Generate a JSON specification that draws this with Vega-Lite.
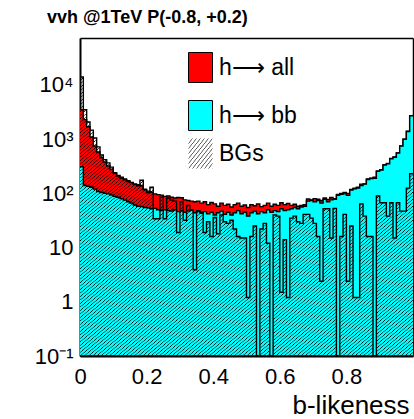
{
"$schema": "https://vega.github.io/schema/vega-lite/v6.json",
"width": 333, "height": 318,
"autosize": {"type": "none"},
"padding": {"left": 80, "top": 38, "right": 1, "bottom": 63},
"background": "white",
"config": {"view": {"stroke": null}, "font": "Liberation Sans"},
"title": {"text": "vvh @1TeV P(-0.8, +0.2)", "anchor": "start", "frame": "group", "offset": 15, "dx": -33, "dy": 28, "fontSize": 18, "font": "Liberation Sans", "fontWeight": "bold", "color": "black", "baseline": "alphabetic"},
"data": {"values": [
{"x":0,"all":3500,"bb":310,"bg":14000},
{"x":0.01,"all":2300,"bb":140,"bg":3500},
{"x":0.02,"all":1700,"bb":135,"bg":2070},
{"x":0.03,"all":1100,"bb":130,"bg":1470},
{"x":0.04,"all":750,"bb":120,"bg":1050},
{"x":0.05,"all":580,"bb":108,"bg":720},
{"x":0.06,"all":460,"bb":104,"bg":510},
{"x":0.07,"all":380,"bb":100,"bg":420},
{"x":0.08,"all":320,"bb":98,"bg":365},
{"x":0.09,"all":280,"bb":93,"bg":305},
{"x":0.1,"all":240,"bb":88,"bg":236},
{"x":0.11,"all":215,"bb":85,"bg":210},
{"x":0.12,"all":200,"bb":80,"bg":190},
{"x":0.13,"all":185,"bb":75,"bg":178},
{"x":0.14,"all":172,"bb":70,"bg":165},
{"x":0.15,"all":160,"bb":66,"bg":158},
{"x":0.16,"all":150,"bb":61,"bg":145},
{"x":0.17,"all":145,"bb":58,"bg":138},
{"x":0.18,"all":140,"bb":57,"bg":175},
{"x":0.19,"all":120,"bb":55,"bg":116},
{"x":0.2,"all":110,"bb":54,"bg":104},
{"x":0.21,"all":105,"bb":52,"bg":130},
{"x":0.22,"all":98,"bb":53,"bg":34},
{"x":0.23,"all":95,"bb":50,"bg":34},
{"x":0.24,"all":93,"bb":49,"bg":85},
{"x":0.25,"all":88,"bb":50,"bg":34},
{"x":0.26,"all":90,"bb":48,"bg":82},
{"x":0.27,"all":85,"bb":47,"bg":75},
{"x":0.28,"all":82,"bb":50,"bg":72},
{"x":0.29,"all":84,"bb":46,"bg":19},
{"x":0.3,"all":83,"bb":48,"bg":70},
{"x":0.31,"all":76,"bb":45,"bg":32},
{"x":0.32,"all":74,"bb":47,"bg":60},
{"x":0.33,"all":72,"bb":50,"bg":49},
{"x":0.34,"all":70,"bb":44,"bg":3.9},
{"x":0.35,"all":72,"bb":48,"bg":46},
{"x":0.36,"all":66,"bb":43,"bg":45},
{"x":0.37,"all":70,"bb":46,"bg":19},
{"x":0.38,"all":62,"bb":42,"bg":30},
{"x":0.39,"all":68,"bb":45,"bg":16},
{"x":0.4,"all":64,"bb":40,"bg":36},
{"x":0.41,"all":58,"bb":44,"bg":18},
{"x":0.42,"all":66,"bb":47,"bg":40},
{"x":0.43,"all":60,"bb":41,"bg":30},
{"x":0.44,"all":63,"bb":45,"bg":28},
{"x":0.45,"all":56,"bb":40,"bg":32},
{"x":0.46,"all":62,"bb":44,"bg":22},
{"x":0.47,"all":66,"bb":48,"bg":16},
{"x":0.48,"all":58,"bb":42,"bg":15},
{"x":0.49,"all":61,"bb":45,"bg":15},
{"x":0.5,"all":55,"bb":38,"bg":1.2},
{"x":0.51,"all":62,"bb":44,"bg":16},
{"x":0.52,"all":59,"bb":47,"bg":25},
{"x":0.53,"all":64,"bb":42,"bg":0.01},
{"x":0.54,"all":57,"bb":46,"bg":22},
{"x":0.55,"all":60,"bb":44,"bg":28},
{"x":0.56,"all":66,"bb":50,"bg":12},
{"x":0.57,"all":58,"bb":45,"bg":0.01},
{"x":0.58,"all":63,"bb":48,"bg":40},
{"x":0.59,"all":60,"bb":46,"bg":38},
{"x":0.6,"all":67,"bb":52,"bg":1.5},
{"x":0.61,"all":62,"bb":48,"bg":14},
{"x":0.62,"all":65,"bb":50,"bg":1.2},
{"x":0.63,"all":60,"bb":52,"bg":35},
{"x":0.64,"all":63,"bb":55,"bg":38},
{"x":0.65,"all":58,"bb":52,"bg":30},
{"x":0.66,"all":60,"bb":56,"bg":28},
{"x":0.67,"all":62,"bb":58,"bg":41},
{"x":0.68,"all":79,"bb":72,"bg":41},
{"x":0.69,"all":76,"bb":74,"bg":35},
{"x":0.7,"all":80,"bb":70,"bg":28},
{"x":0.71,"all":78,"bb":74,"bg":16},
{"x":0.72,"all":74,"bb":66,"bg":2.4},
{"x":0.73,"all":82,"bb":78,"bg":52},
{"x":0.74,"all":77,"bb":70,"bg":52},
{"x":0.75,"all":84,"bb":76,"bg":15},
{"x":0.76,"all":80,"bb":78,"bg":53},
{"x":0.77,"all":96,"bb":92,"bg":0.01},
{"x":0.78,"all":100,"bb":96,"bg":16},
{"x":0.79,"all":104,"bb":98,"bg":41},
{"x":0.8,"all":100,"bb":92,"bg":2.4},
{"x":0.81,"all":118,"bb":115,"bg":25},
{"x":0.82,"all":125,"bb":122,"bg":1.2},
{"x":0.83,"all":130,"bb":125,"bg":1.2},
{"x":0.84,"all":148,"bb":140,"bg":64},
{"x":0.85,"all":150,"bb":148,"bg":38},
{"x":0.86,"all":185,"bb":180,"bg":16},
{"x":0.87,"all":190,"bb":188,"bg":16},
{"x":0.88,"all":200,"bb":190,"bg":0.01},
{"x":0.89,"all":260,"bb":255,"bg":90},
{"x":0.9,"all":275,"bb":270,"bg":67},
{"x":0.91,"all":340,"bb":335,"bg":67},
{"x":0.92,"all":355,"bb":350,"bg":38},
{"x":0.93,"all":440,"bb":435,"bg":67},
{"x":0.94,"all":470,"bb":465,"bg":15},
{"x":0.95,"all":560,"bb":555,"bg":67},
{"x":0.96,"all":750,"bb":745,"bg":47},
{"x":0.97,"all":1000,"bb":995,"bg":47},
{"x":0.98,"all":1400,"bb":1390,"bg":125},
{"x":0.99,"all":2700,"bb":2690,"bg":230},
{"x":1,"all":2700,"bb":2690,"bg":230}
]},
"layer": [
{"mark": {"type": "area", "interpolate": "step-after", "opacity": 1},
 "encoding": {
  "x": {"field": "x", "type": "quantitative", "scale": {"domain": [0, 1], "nice": false, "zero": false},
   "axis": {"orient": "bottom", "values": [0,0.05,0.1,0.15,0.2,0.25,0.3,0.35,0.4,0.45,0.5,0.55,0.6,0.65,0.7,0.75,0.8,0.85,0.9,0.95,1],
    "labelExpr": "datum.value == 0 ? '0' : datum.value == 0.2 ? '0.2' : datum.value == 0.4 ? '0.4' : datum.value == 0.6 ? '0.6' : datum.value == 0.8 ? '0.8' : ''",
    "labelFlush": false, "labelOverlap": false, "labelFont": "Liberation Sans", "labelFontSize": 22, "labelColor": "black", "labelPadding": 10,
    "tickSize": 0, "tickColor": "black", "tickWidth": 1, "domainColor": "black", "domainWidth": 2, "grid": false,
    "title": "b-likeness", "titleFont": "Liberation Sans", "titleFontSize": 26, "titleFontWeight": "normal", "titleColor": "black",
    "titleX": 212, "titleY": 57, "titleAlign": "left", "titleBaseline": "alphabetic",
    "encode": {"ticks": {"y2": {"condition": {"test": "indexof([0,0.2,0.4,0.6,0.8,1], datum.value) >= 0", "value": -10}, "value": -5}}}}},
  "y": {"field": "all", "type": "quantitative", "scale": {"type": "log", "domain": [0.1, 73600], "nice": false, "clamp": true},
   "axis": {"orient": "left", "values": [0.1,0.2,0.3,0.4,0.5,0.6,0.7,0.8,0.9,1,2,3,4,5,6,7,8,9,10,20,30,40,50,60,70,80,90,100,200,300,400,500,600,700,800,900,1000,2000,3000,4000,5000,6000,7000,8000,9000,10000,20000,30000,40000,50000,60000,70000],
    "labelExpr": "datum.value == 0.1 ? '10⁻¹' : datum.value == 1 ? '1' : datum.value == 10 ? '10' : datum.value == 100 ? '10²' : datum.value == 1000 ? '10³' : datum.value == 10000 ? '10⁴' : ''",
    "labelOverlap": false, "labelFlush": false, "labelFont": "Liberation Sans", "labelFontSize": 22, "labelColor": "black", "labelPadding": 7,
    "tickSize": 0, "tickColor": "black", "tickWidth": 1, "domainColor": "black", "domainWidth": 2, "grid": false, "title": null,
    "encode": {"ticks": {"x2": {"condition": {"test": "indexof([0.1,1,10,100,1000,10000], datum.value) >= 0", "value": 10}, "value": 5}}}}},
  "y2": {"datum": 0.1},
  "fill": {"datum": "h⟶ all", "scale": {"domain": ["h⟶ all", "h⟶ bb"], "range": ["#ff0000", "#00ffff"]},
   "legend": {"orient": "none", "legendX": 105, "legendY": 14, "title": null, "symbolType": "M-0.8,-1H0.8V1H-0.8Z", "symbolSize": 900,
    "labelFontSize": 23, "labelFont": "Liberation Sans", "labelColor": "black", "labelOffset": 3, "rowPadding": 13, "padding": 0,
    "symbolStrokeColor": "black", "symbolStrokeWidth": 1, "symbolOpacity": 1, "labelLimit": 0}}
 }},
{"mark": {"type": "line", "interpolate": "step-after", "color": "black", "strokeWidth": 1.4},
 "encoding": {"x": {"field": "x", "type": "quantitative", "axis": null}, "y": {"field": "all", "type": "quantitative", "axis": null}}},
{"mark": {"type": "area", "interpolate": "step-after", "opacity": 1},
 "encoding": {"x": {"field": "x", "type": "quantitative", "axis": null}, "y": {"field": "bb", "type": "quantitative", "axis": null}, "y2": {"datum": 0.1}, "fill": {"datum": "h⟶ bb"}}},
{"mark": {"type": "line", "interpolate": "step-after", "color": "black", "strokeWidth": 1.4},
 "encoding": {"x": {"field": "x", "type": "quantitative", "axis": null}, "y": {"field": "bb", "type": "quantitative", "axis": null}}},
{"mark": {"type": "area", "interpolate": "step-after", "fill": {"gradient": "linear", "x1": 0, "y1": 0, "x2": 1, "y2": 1, "stops": [
{"offset":0,"color":"#000"},{"offset":0.00125,"color":"transparent"},{"offset":0.005,"color":"transparent"},{"offset":0.00625,"color":"#000"},{"offset":0.0075,"color":"transparent"},{"offset":0.01125,"color":"transparent"},{"offset":0.0125,"color":"#000"},{"offset":0.01375,"color":"transparent"},{"offset":0.0175,"color":"transparent"},{"offset":0.01875,"color":"#000"},{"offset":0.02,"color":"transparent"},{"offset":0.02375,"color":"transparent"},{"offset":0.025,"color":"#000"},{"offset":0.02625,"color":"transparent"},{"offset":0.03,"color":"transparent"},{"offset":0.03125,"color":"#000"},{"offset":0.0325,"color":"transparent"},{"offset":0.03625,"color":"transparent"},{"offset":0.0375,"color":"#000"},{"offset":0.03875,"color":"transparent"},{"offset":0.0425,"color":"transparent"},{"offset":0.04375,"color":"#000"},{"offset":0.045,"color":"transparent"},{"offset":0.04875,"color":"transparent"},{"offset":0.05,"color":"#000"},{"offset":0.05125,"color":"transparent"},{"offset":0.055,"color":"transparent"},{"offset":0.05625,"color":"#000"},{"offset":0.0575,"color":"transparent"},{"offset":0.06125,"color":"transparent"},{"offset":0.0625,"color":"#000"},{"offset":0.06375,"color":"transparent"},{"offset":0.0675,"color":"transparent"},{"offset":0.06875,"color":"#000"},{"offset":0.07,"color":"transparent"},{"offset":0.07375,"color":"transparent"},{"offset":0.075,"color":"#000"},{"offset":0.07625,"color":"transparent"},{"offset":0.08,"color":"transparent"},{"offset":0.08125,"color":"#000"},{"offset":0.0825,"color":"transparent"},{"offset":0.08625,"color":"transparent"},{"offset":0.0875,"color":"#000"},{"offset":0.08875,"color":"transparent"},{"offset":0.0925,"color":"transparent"},{"offset":0.09375,"color":"#000"},{"offset":0.095,"color":"transparent"},{"offset":0.09875,"color":"transparent"},
{"offset":0.1,"color":"#000"},{"offset":0.10125,"color":"transparent"},{"offset":0.105,"color":"transparent"},{"offset":0.10625,"color":"#000"},{"offset":0.1075,"color":"transparent"},{"offset":0.11125,"color":"transparent"},{"offset":0.1125,"color":"#000"},{"offset":0.11375,"color":"transparent"},{"offset":0.1175,"color":"transparent"},{"offset":0.11875,"color":"#000"},{"offset":0.12,"color":"transparent"},{"offset":0.12375,"color":"transparent"},{"offset":0.125,"color":"#000"},{"offset":0.12625,"color":"transparent"},{"offset":0.13,"color":"transparent"},{"offset":0.13125,"color":"#000"},{"offset":0.1325,"color":"transparent"},{"offset":0.13625,"color":"transparent"},{"offset":0.1375,"color":"#000"},{"offset":0.13875,"color":"transparent"},{"offset":0.1425,"color":"transparent"},{"offset":0.14375,"color":"#000"},{"offset":0.145,"color":"transparent"},{"offset":0.14875,"color":"transparent"},{"offset":0.15,"color":"#000"},{"offset":0.15125,"color":"transparent"},{"offset":0.155,"color":"transparent"},{"offset":0.15625,"color":"#000"},{"offset":0.1575,"color":"transparent"},{"offset":0.16125,"color":"transparent"},{"offset":0.1625,"color":"#000"},{"offset":0.16375,"color":"transparent"},{"offset":0.1675,"color":"transparent"},{"offset":0.16875,"color":"#000"},{"offset":0.17,"color":"transparent"},{"offset":0.17375,"color":"transparent"},{"offset":0.175,"color":"#000"},{"offset":0.17625,"color":"transparent"},{"offset":0.18,"color":"transparent"},{"offset":0.18125,"color":"#000"},{"offset":0.1825,"color":"transparent"},{"offset":0.18625,"color":"transparent"},{"offset":0.1875,"color":"#000"},{"offset":0.18875,"color":"transparent"},{"offset":0.1925,"color":"transparent"},{"offset":0.19375,"color":"#000"},{"offset":0.195,"color":"transparent"},{"offset":0.19875,"color":"transparent"},
{"offset":0.2,"color":"#000"},{"offset":0.20125,"color":"transparent"},{"offset":0.205,"color":"transparent"},{"offset":0.20625,"color":"#000"},{"offset":0.2075,"color":"transparent"},{"offset":0.21125,"color":"transparent"},{"offset":0.2125,"color":"#000"},{"offset":0.21375,"color":"transparent"},{"offset":0.2175,"color":"transparent"},{"offset":0.21875,"color":"#000"},{"offset":0.22,"color":"transparent"},{"offset":0.22375,"color":"transparent"},{"offset":0.225,"color":"#000"},{"offset":0.22625,"color":"transparent"},{"offset":0.23,"color":"transparent"},{"offset":0.23125,"color":"#000"},{"offset":0.2325,"color":"transparent"},{"offset":0.23625,"color":"transparent"},{"offset":0.2375,"color":"#000"},{"offset":0.23875,"color":"transparent"},{"offset":0.2425,"color":"transparent"},{"offset":0.24375,"color":"#000"},{"offset":0.245,"color":"transparent"},{"offset":0.24875,"color":"transparent"},{"offset":0.25,"color":"#000"},{"offset":0.25125,"color":"transparent"},{"offset":0.255,"color":"transparent"},{"offset":0.25625,"color":"#000"},{"offset":0.2575,"color":"transparent"},{"offset":0.26125,"color":"transparent"},{"offset":0.2625,"color":"#000"},{"offset":0.26375,"color":"transparent"},{"offset":0.2675,"color":"transparent"},{"offset":0.26875,"color":"#000"},{"offset":0.27,"color":"transparent"},{"offset":0.27375,"color":"transparent"},{"offset":0.275,"color":"#000"},{"offset":0.27625,"color":"transparent"},{"offset":0.28,"color":"transparent"},{"offset":0.28125,"color":"#000"},{"offset":0.2825,"color":"transparent"},{"offset":0.28625,"color":"transparent"},{"offset":0.2875,"color":"#000"},{"offset":0.28875,"color":"transparent"},{"offset":0.2925,"color":"transparent"},{"offset":0.29375,"color":"#000"},{"offset":0.295,"color":"transparent"},{"offset":0.29875,"color":"transparent"},
{"offset":0.3,"color":"#000"},{"offset":0.30125,"color":"transparent"},{"offset":0.305,"color":"transparent"},{"offset":0.30625,"color":"#000"},{"offset":0.3075,"color":"transparent"},{"offset":0.31125,"color":"transparent"},{"offset":0.3125,"color":"#000"},{"offset":0.31375,"color":"transparent"},{"offset":0.3175,"color":"transparent"},{"offset":0.31875,"color":"#000"},{"offset":0.32,"color":"transparent"},{"offset":0.32375,"color":"transparent"},{"offset":0.325,"color":"#000"},{"offset":0.32625,"color":"transparent"},{"offset":0.33,"color":"transparent"},{"offset":0.33125,"color":"#000"},{"offset":0.3325,"color":"transparent"},{"offset":0.33625,"color":"transparent"},{"offset":0.3375,"color":"#000"},{"offset":0.33875,"color":"transparent"},{"offset":0.3425,"color":"transparent"},{"offset":0.34375,"color":"#000"},{"offset":0.345,"color":"transparent"},{"offset":0.34875,"color":"transparent"},{"offset":0.35,"color":"#000"},{"offset":0.35125,"color":"transparent"},{"offset":0.355,"color":"transparent"},{"offset":0.35625,"color":"#000"},{"offset":0.3575,"color":"transparent"},{"offset":0.36125,"color":"transparent"},{"offset":0.3625,"color":"#000"},{"offset":0.36375,"color":"transparent"},{"offset":0.3675,"color":"transparent"},{"offset":0.36875,"color":"#000"},{"offset":0.37,"color":"transparent"},{"offset":0.37375,"color":"transparent"},{"offset":0.375,"color":"#000"},{"offset":0.37625,"color":"transparent"},{"offset":0.38,"color":"transparent"},{"offset":0.38125,"color":"#000"},{"offset":0.3825,"color":"transparent"},{"offset":0.38625,"color":"transparent"},{"offset":0.3875,"color":"#000"},{"offset":0.38875,"color":"transparent"},{"offset":0.3925,"color":"transparent"},{"offset":0.39375,"color":"#000"},{"offset":0.395,"color":"transparent"},{"offset":0.39875,"color":"transparent"},
{"offset":0.4,"color":"#000"},{"offset":0.40125,"color":"transparent"},{"offset":0.405,"color":"transparent"},{"offset":0.40625,"color":"#000"},{"offset":0.4075,"color":"transparent"},{"offset":0.41125,"color":"transparent"},{"offset":0.4125,"color":"#000"},{"offset":0.41375,"color":"transparent"},{"offset":0.4175,"color":"transparent"},{"offset":0.41875,"color":"#000"},{"offset":0.42,"color":"transparent"},{"offset":0.42375,"color":"transparent"},{"offset":0.425,"color":"#000"},{"offset":0.42625,"color":"transparent"},{"offset":0.43,"color":"transparent"},{"offset":0.43125,"color":"#000"},{"offset":0.4325,"color":"transparent"},{"offset":0.43625,"color":"transparent"},{"offset":0.4375,"color":"#000"},{"offset":0.43875,"color":"transparent"},{"offset":0.4425,"color":"transparent"},{"offset":0.44375,"color":"#000"},{"offset":0.445,"color":"transparent"},{"offset":0.44875,"color":"transparent"},{"offset":0.45,"color":"#000"},{"offset":0.45125,"color":"transparent"},{"offset":0.455,"color":"transparent"},{"offset":0.45625,"color":"#000"},{"offset":0.4575,"color":"transparent"},{"offset":0.46125,"color":"transparent"},{"offset":0.4625,"color":"#000"},{"offset":0.46375,"color":"transparent"},{"offset":0.4675,"color":"transparent"},{"offset":0.46875,"color":"#000"},{"offset":0.47,"color":"transparent"},{"offset":0.47375,"color":"transparent"},{"offset":0.475,"color":"#000"},{"offset":0.47625,"color":"transparent"},{"offset":0.48,"color":"transparent"},{"offset":0.48125,"color":"#000"},{"offset":0.4825,"color":"transparent"},{"offset":0.48625,"color":"transparent"},{"offset":0.4875,"color":"#000"},{"offset":0.48875,"color":"transparent"},{"offset":0.4925,"color":"transparent"},{"offset":0.49375,"color":"#000"},{"offset":0.495,"color":"transparent"},{"offset":0.49875,"color":"transparent"},
{"offset":0.5,"color":"#000"},{"offset":0.50125,"color":"transparent"},{"offset":0.505,"color":"transparent"},{"offset":0.50625,"color":"#000"},{"offset":0.5075,"color":"transparent"},{"offset":0.51125,"color":"transparent"},{"offset":0.5125,"color":"#000"},{"offset":0.51375,"color":"transparent"},{"offset":0.5175,"color":"transparent"},{"offset":0.51875,"color":"#000"},{"offset":0.52,"color":"transparent"},{"offset":0.52375,"color":"transparent"},{"offset":0.525,"color":"#000"},{"offset":0.52625,"color":"transparent"},{"offset":0.53,"color":"transparent"},{"offset":0.53125,"color":"#000"},{"offset":0.5325,"color":"transparent"},{"offset":0.53625,"color":"transparent"},{"offset":0.5375,"color":"#000"},{"offset":0.53875,"color":"transparent"},{"offset":0.5425,"color":"transparent"},{"offset":0.54375,"color":"#000"},{"offset":0.545,"color":"transparent"},{"offset":0.54875,"color":"transparent"},{"offset":0.55,"color":"#000"},{"offset":0.55125,"color":"transparent"},{"offset":0.555,"color":"transparent"},{"offset":0.55625,"color":"#000"},{"offset":0.5575,"color":"transparent"},{"offset":0.56125,"color":"transparent"},{"offset":0.5625,"color":"#000"},{"offset":0.56375,"color":"transparent"},{"offset":0.5675,"color":"transparent"},{"offset":0.56875,"color":"#000"},{"offset":0.57,"color":"transparent"},{"offset":0.57375,"color":"transparent"},{"offset":0.575,"color":"#000"},{"offset":0.57625,"color":"transparent"},{"offset":0.58,"color":"transparent"},{"offset":0.58125,"color":"#000"},{"offset":0.5825,"color":"transparent"},{"offset":0.58625,"color":"transparent"},{"offset":0.5875,"color":"#000"},{"offset":0.58875,"color":"transparent"},{"offset":0.5925,"color":"transparent"},{"offset":0.59375,"color":"#000"},{"offset":0.595,"color":"transparent"},{"offset":0.59875,"color":"transparent"},
{"offset":0.6,"color":"#000"},{"offset":0.60125,"color":"transparent"},{"offset":0.605,"color":"transparent"},{"offset":0.60625,"color":"#000"},{"offset":0.6075,"color":"transparent"},{"offset":0.61125,"color":"transparent"},{"offset":0.6125,"color":"#000"},{"offset":0.61375,"color":"transparent"},{"offset":0.6175,"color":"transparent"},{"offset":0.61875,"color":"#000"},{"offset":0.62,"color":"transparent"},{"offset":0.62375,"color":"transparent"},{"offset":0.625,"color":"#000"},{"offset":0.62625,"color":"transparent"},{"offset":0.63,"color":"transparent"},{"offset":0.63125,"color":"#000"},{"offset":0.6325,"color":"transparent"},{"offset":0.63625,"color":"transparent"},{"offset":0.6375,"color":"#000"},{"offset":0.63875,"color":"transparent"},{"offset":0.6425,"color":"transparent"},{"offset":0.64375,"color":"#000"},{"offset":0.645,"color":"transparent"},{"offset":0.64875,"color":"transparent"},{"offset":0.65,"color":"#000"},{"offset":0.65125,"color":"transparent"},{"offset":0.655,"color":"transparent"},{"offset":0.65625,"color":"#000"},{"offset":0.6575,"color":"transparent"},{"offset":0.66125,"color":"transparent"},{"offset":0.6625,"color":"#000"},{"offset":0.66375,"color":"transparent"},{"offset":0.6675,"color":"transparent"},{"offset":0.66875,"color":"#000"},{"offset":0.67,"color":"transparent"},{"offset":0.67375,"color":"transparent"},{"offset":0.675,"color":"#000"},{"offset":0.67625,"color":"transparent"},{"offset":0.68,"color":"transparent"},{"offset":0.68125,"color":"#000"},{"offset":0.6825,"color":"transparent"},{"offset":0.68625,"color":"transparent"},{"offset":0.6875,"color":"#000"},{"offset":0.68875,"color":"transparent"},{"offset":0.6925,"color":"transparent"},{"offset":0.69375,"color":"#000"},{"offset":0.695,"color":"transparent"},{"offset":0.69875,"color":"transparent"},
{"offset":0.7,"color":"#000"},{"offset":0.70125,"color":"transparent"},{"offset":0.705,"color":"transparent"},{"offset":0.70625,"color":"#000"},{"offset":0.7075,"color":"transparent"},{"offset":0.71125,"color":"transparent"},{"offset":0.7125,"color":"#000"},{"offset":0.71375,"color":"transparent"},{"offset":0.7175,"color":"transparent"},{"offset":0.71875,"color":"#000"},{"offset":0.72,"color":"transparent"},{"offset":0.72375,"color":"transparent"},{"offset":0.725,"color":"#000"},{"offset":0.72625,"color":"transparent"},{"offset":0.73,"color":"transparent"},{"offset":0.73125,"color":"#000"},{"offset":0.7325,"color":"transparent"},{"offset":0.73625,"color":"transparent"},{"offset":0.7375,"color":"#000"},{"offset":0.73875,"color":"transparent"},{"offset":0.7425,"color":"transparent"},{"offset":0.74375,"color":"#000"},{"offset":0.745,"color":"transparent"},{"offset":0.74875,"color":"transparent"},{"offset":0.75,"color":"#000"},{"offset":0.75125,"color":"transparent"},{"offset":0.755,"color":"transparent"},{"offset":0.75625,"color":"#000"},{"offset":0.7575,"color":"transparent"},{"offset":0.76125,"color":"transparent"},{"offset":0.7625,"color":"#000"},{"offset":0.76375,"color":"transparent"},{"offset":0.7675,"color":"transparent"},{"offset":0.76875,"color":"#000"},{"offset":0.77,"color":"transparent"},{"offset":0.77375,"color":"transparent"},{"offset":0.775,"color":"#000"},{"offset":0.77625,"color":"transparent"},{"offset":0.78,"color":"transparent"},{"offset":0.78125,"color":"#000"},{"offset":0.7825,"color":"transparent"},{"offset":0.78625,"color":"transparent"},{"offset":0.7875,"color":"#000"},{"offset":0.78875,"color":"transparent"},{"offset":0.7925,"color":"transparent"},{"offset":0.79375,"color":"#000"},{"offset":0.795,"color":"transparent"},{"offset":0.79875,"color":"transparent"},
{"offset":0.8,"color":"#000"},{"offset":0.80125,"color":"transparent"},{"offset":0.805,"color":"transparent"},{"offset":0.80625,"color":"#000"},{"offset":0.8075,"color":"transparent"},{"offset":0.81125,"color":"transparent"},{"offset":0.8125,"color":"#000"},{"offset":0.81375,"color":"transparent"},{"offset":0.8175,"color":"transparent"},{"offset":0.81875,"color":"#000"},{"offset":0.82,"color":"transparent"},{"offset":0.82375,"color":"transparent"},{"offset":0.825,"color":"#000"},{"offset":0.82625,"color":"transparent"},{"offset":0.83,"color":"transparent"},{"offset":0.83125,"color":"#000"},{"offset":0.8325,"color":"transparent"},{"offset":0.83625,"color":"transparent"},{"offset":0.8375,"color":"#000"},{"offset":0.83875,"color":"transparent"},{"offset":0.8425,"color":"transparent"},{"offset":0.84375,"color":"#000"},{"offset":0.845,"color":"transparent"},{"offset":0.84875,"color":"transparent"},{"offset":0.85,"color":"#000"},{"offset":0.85125,"color":"transparent"},{"offset":0.855,"color":"transparent"},{"offset":0.85625,"color":"#000"},{"offset":0.8575,"color":"transparent"},{"offset":0.86125,"color":"transparent"},{"offset":0.8625,"color":"#000"},{"offset":0.86375,"color":"transparent"},{"offset":0.8675,"color":"transparent"},{"offset":0.86875,"color":"#000"},{"offset":0.87,"color":"transparent"},{"offset":0.87375,"color":"transparent"},{"offset":0.875,"color":"#000"},{"offset":0.87625,"color":"transparent"},{"offset":0.88,"color":"transparent"},{"offset":0.88125,"color":"#000"},{"offset":0.8825,"color":"transparent"},{"offset":0.88625,"color":"transparent"},{"offset":0.8875,"color":"#000"},{"offset":0.88875,"color":"transparent"},{"offset":0.8925,"color":"transparent"},{"offset":0.89375,"color":"#000"},{"offset":0.895,"color":"transparent"},{"offset":0.89875,"color":"transparent"},
{"offset":0.9,"color":"#000"},{"offset":0.90125,"color":"transparent"},{"offset":0.905,"color":"transparent"},{"offset":0.90625,"color":"#000"},{"offset":0.9075,"color":"transparent"},{"offset":0.91125,"color":"transparent"},{"offset":0.9125,"color":"#000"},{"offset":0.91375,"color":"transparent"},{"offset":0.9175,"color":"transparent"},{"offset":0.91875,"color":"#000"},{"offset":0.92,"color":"transparent"},{"offset":0.92375,"color":"transparent"},{"offset":0.925,"color":"#000"},{"offset":0.92625,"color":"transparent"},{"offset":0.93,"color":"transparent"},{"offset":0.93125,"color":"#000"},{"offset":0.9325,"color":"transparent"},{"offset":0.93625,"color":"transparent"},{"offset":0.9375,"color":"#000"},{"offset":0.93875,"color":"transparent"},{"offset":0.9425,"color":"transparent"},{"offset":0.94375,"color":"#000"},{"offset":0.945,"color":"transparent"},{"offset":0.94875,"color":"transparent"},{"offset":0.95,"color":"#000"},{"offset":0.95125,"color":"transparent"},{"offset":0.955,"color":"transparent"},{"offset":0.95625,"color":"#000"},{"offset":0.9575,"color":"transparent"},{"offset":0.96125,"color":"transparent"},{"offset":0.9625,"color":"#000"},{"offset":0.96375,"color":"transparent"},{"offset":0.9675,"color":"transparent"},{"offset":0.96875,"color":"#000"},{"offset":0.97,"color":"transparent"},{"offset":0.97375,"color":"transparent"},{"offset":0.975,"color":"#000"},{"offset":0.97625,"color":"transparent"},{"offset":0.98,"color":"transparent"},{"offset":0.98125,"color":"#000"},{"offset":0.9825,"color":"transparent"},{"offset":0.98625,"color":"transparent"},{"offset":0.9875,"color":"#000"},{"offset":0.98875,"color":"transparent"},{"offset":0.9925,"color":"transparent"},{"offset":0.99375,"color":"#000"},{"offset":0.995,"color":"transparent"},{"offset":0.99875,"color":"transparent"},
{"offset":1,"color":"#000"}]}},
 "encoding": {"x": {"field": "x", "type": "quantitative", "axis": null}, "y": {"field": "bg", "type": "quantitative", "axis": null}, "y2": {"datum": 0.1}}},
{"mark": {"type": "line", "interpolate": "step-after", "color": "black", "strokeWidth": 1.4},
 "encoding": {
  "x": {"field": "x", "type": "quantitative",
   "axis": {"orient": "top", "values": [0,0.05,0.1,0.15,0.2,0.25,0.3,0.35,0.4,0.45,0.5,0.55,0.6,0.65,0.7,0.75,0.8,0.85,0.9,0.95,1],
    "labels": false, "title": null, "tickSize": 0, "tickColor": "black", "tickWidth": 1, "domainColor": "black", "domainWidth": 1.5, "grid": false,
    "encode": {"ticks": {"y2": {"condition": {"test": "indexof([0,0.2,0.4,0.6,0.8,1], datum.value) >= 0", "value": 10}, "value": 5}}}}},
  "y": {"field": "bg", "type": "quantitative",
   "axis": {"orient": "right", "values": [0.1,0.2,0.3,0.4,0.5,0.6,0.7,0.8,0.9,1,2,3,4,5,6,7,8,9,10,20,30,40,50,60,70,80,90,100,200,300,400,500,600,700,800,900,1000,2000,3000,4000,5000,6000,7000,8000,9000,10000,20000,30000,40000,50000,60000,70000],
    "labels": false, "title": null, "tickSize": 0, "tickColor": "black", "tickWidth": 1, "domainColor": "black", "domainWidth": 1.5, "grid": false,
    "encode": {"ticks": {"x2": {"condition": {"test": "indexof([0.1,1,10,100,1000,10000], datum.value) >= 0", "value": -10}, "value": -5}}}}}
 }},
{"mark": {"type": "area", "interpolate": "step-after", "stroke": "black", "strokeWidth": 1, "fill": {"gradient": "linear", "x1": 0, "y1": 0, "x2": 1, "y2": 1, "stops": [
{"offset":0,"color":"#555"},{"offset":0.0167,"color":"transparent"},{"offset":0.0666,"color":"transparent"},
{"offset":0.0833,"color":"#555"},{"offset":0.1,"color":"transparent"},{"offset":0.15,"color":"transparent"},
{"offset":0.1667,"color":"#555"},{"offset":0.1834,"color":"transparent"},{"offset":0.2333,"color":"transparent"},
{"offset":0.25,"color":"#555"},{"offset":0.2667,"color":"transparent"},{"offset":0.3166,"color":"transparent"},
{"offset":0.3333,"color":"#555"},{"offset":0.35,"color":"transparent"},{"offset":0.4,"color":"transparent"},
{"offset":0.4167,"color":"#555"},{"offset":0.4334,"color":"transparent"},{"offset":0.4833,"color":"transparent"},
{"offset":0.5,"color":"#555"},{"offset":0.5167,"color":"transparent"},{"offset":0.5666,"color":"transparent"},
{"offset":0.5833,"color":"#555"},{"offset":0.6,"color":"transparent"},{"offset":0.65,"color":"transparent"},
{"offset":0.6667,"color":"#555"},{"offset":0.6834,"color":"transparent"},{"offset":0.7333,"color":"transparent"},
{"offset":0.75,"color":"#555"},{"offset":0.7667,"color":"transparent"},{"offset":0.8166,"color":"transparent"},
{"offset":0.8333,"color":"#555"},{"offset":0.85,"color":"transparent"},{"offset":0.9,"color":"transparent"},
{"offset":0.9167,"color":"#555"},{"offset":0.9334,"color":"transparent"},{"offset":0.9833,"color":"transparent"},
{"offset":1,"color":"#555"}]}},
 "encoding": {
  "x": {"field": "x", "type": "quantitative", "axis": null},
  "y": {"datum": 0.1, "type": "quantitative", "axis": null},
  "y2": {"datum": 0.1},
  "opacity": {"datum": "BGs", "scale": {"domain": ["BGs"], "range": [1]},
   "legend": {"orient": "none", "legendX": 105, "legendY": 100, "title": null, "symbolType": "M-0.8,-1H0.8V1H-0.8Z", "symbolSize": 900,
    "labelFontSize": 23, "labelFont": "Liberation Sans", "labelColor": "black", "labelOffset": 3, "padding": 0,
    "symbolStrokeColor": "black", "symbolStrokeWidth": 1, "labelLimit": 0,
    "encode": {"symbols": {"stroke": {"value": "black"}, "strokeWidth": {"value": 1}}}}}
 }}
],
"resolve": {"axis": {"x": "independent", "y": "independent"}}
}
